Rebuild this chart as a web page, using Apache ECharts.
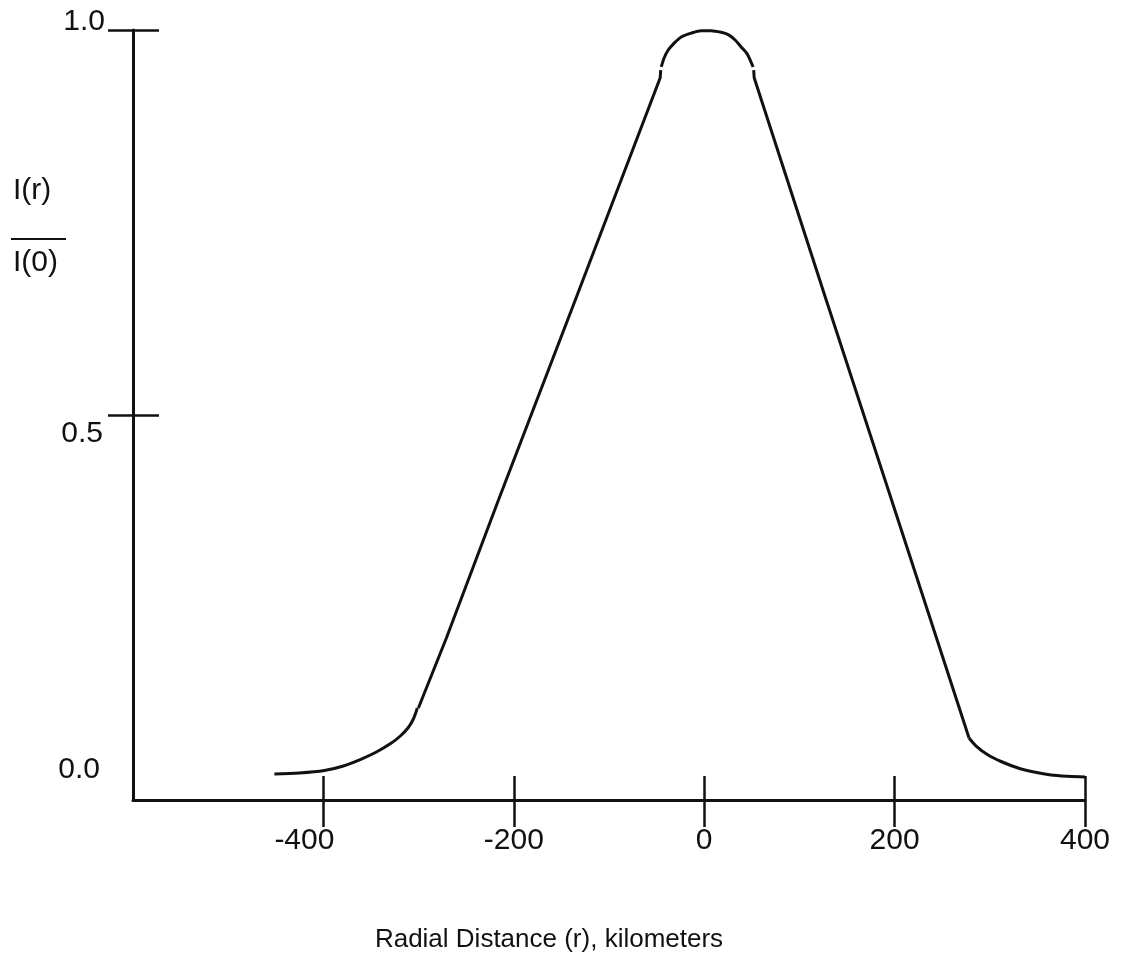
<!DOCTYPE html>
<html>
<head>
<meta charset="utf-8">
<style>
  html, body { margin: 0; padding: 0; background: #ffffff; }
  #chart { width: 1125px; height: 962px; }
</style>
<script src="https://cdn.jsdelivr.net/npm/echarts@6/dist/echarts.min.js"></script>
</head>
<body>
<div id="chart"></div>
<script>
// Normalised intensity profile I(r)/I(0) against radial distance r (km),
// drawn as five pieces: two wings, two straight flanks and the rounded crest.
const leftWingR  = [-451.5, -425.2, -399.0, -379.0, -360.1, -344.3, -328.6, -319.2, -310.8, -305.5, -301.3];
const leftWingI  = [0.0338, 0.0351, 0.0383, 0.0442, 0.0532, 0.0623, 0.0740, 0.0831, 0.0942, 0.1052, 0.1195];

const leftFlankR = [-300.2, -270.9, -216.3, -135.5, -46.2, -45.7];
const leftFlankI = [0.1195, 0.210, 0.389, 0.649, 0.938, 0.948];

const crestR = [-45.1, -42.0, -37.8, -31.5, -24.1, -13.6, -3.1, 7.3, 17.8, 25.2, 32.5, 38.8, 45.1, 49.3, 51.4];
const crestI = [0.952, 0.964, 0.974, 0.983, 0.991, 0.996, 0.999, 0.999, 0.997, 0.994, 0.987, 0.978, 0.969, 0.958, 0.952];

const rightFlankR = [52.0, 52.5, 128.0, 197.0, 278.2];
const rightFlankI = [0.948, 0.938, 0.650, 0.389, 0.0805];

const rightWingR = [278.2, 285.6, 298.2, 311.8, 329.7, 346.5, 364.3, 382.1, 400.0];
const rightWingI = [0.0805, 0.0701, 0.0584, 0.0500, 0.0416, 0.0364, 0.0325, 0.0308, 0.0299];

const xTicks = [-400, -200, 0, 200, 400];
const yTickMarks = [0.5, 1.0];
const yTickLabels = [0.0, 0.5, 1.0];

const FONT = '"Liberation Sans", Arial, Helvetica, sans-serif';
const INK = '#111111';
const TICK_FONT = 30;

const pairs = (rs, vs) => rs.map((r, i) => [r, vs[i]]);

// label placement tweaks: each y label sits a little off its tick,
// and the -400 label is set slightly to the left of its tick
const yLabelStyle = { 0: 'lo', 0.5: 'mid', 1: 'hi' };
const xLabelStyle = v => (v === -400 ? 'shift' : 'std');

const chart = echarts.init(document.getElementById('chart'), null, { renderer: 'canvas' });

const xBase = {
  type: 'value', min: -600, max: 400, position: 'bottom',
  splitLine: { show: false }
};
const yBase = {
  type: 'value', min: 0, max: 1, position: 'left',
  splitLine: { show: false }
};
const txt = extra => Object.assign({ fontFamily: FONT, fontSize: TICK_FONT, color: INK }, extra);

const segment = (rs, vs, smooth) => ({
  type: 'line',
  xAxisIndex: 0, yAxisIndex: 0,
  data: pairs(rs, vs),
  showSymbol: false,
  smooth: smooth,
  lineStyle: { color: INK, width: 3 },
  silent: true
});

chart.setOption({
  animation: false,
  backgroundColor: '#ffffff',
  grid: { left: 133, right: 40, top: 30, bottom: 162, containLabel: false },
  xAxis: [
    Object.assign({}, xBase, {
      axisLine: { show: true, onZero: false, lineStyle: { color: INK, width: 3 } },
      axisTick: { show: true, inside: false, length: 27, customValues: xTicks,
                  lineStyle: { color: INK, width: 2.5 } },
      axisLabel: {
        show: true, customValues: xTicks, margin: 26,
        fontFamily: FONT, fontSize: TICK_FONT, color: INK,
        formatter: v => '{' + xLabelStyle(v) + '|' + v + '}',
        rich: { std: txt({}), shift: txt({ padding: [0, 38, 0, 0] }) }
      }
    }),
    Object.assign({}, xBase, {
      axisLine: { show: false, onZero: false },
      axisTick: { show: true, inside: true, length: 24, customValues: xTicks,
                  lineStyle: { color: INK, width: 2.5 } },
      axisLabel: { show: false }
    })
  ],
  yAxis: [
    Object.assign({}, yBase, {
      axisLine: { show: true, onZero: false, lineStyle: { color: INK, width: 3 } },
      axisTick: { show: true, inside: false, length: 25, customValues: yTickMarks,
                  lineStyle: { color: INK, width: 2.5 } },
      axisLabel: {
        show: true, customValues: yTickLabels, margin: 28,
        fontFamily: FONT, fontSize: TICK_FONT, color: INK,
        formatter: v => '{' + yLabelStyle[v] + '|' + v.toFixed(1) + '}',
        rich: {
          hi:  txt({ padding: [0, 0, 16, 0] }),
          mid: txt({ padding: [38, 2, 0, 0] }),
          lo:  txt({ padding: [0, 5, 60, 0] })
        }
      }
    }),
    Object.assign({}, yBase, {
      axisLine: { show: false, onZero: false },
      axisTick: { show: true, inside: true, length: 26, customValues: yTickMarks,
                  lineStyle: { color: INK, width: 2.5 } },
      axisLabel: { show: false }
    })
  ],
  series: [
    segment(leftWingR, leftWingI, 0.3),
    segment(leftFlankR, leftFlankI, false),
    segment(crestR, crestI, 0.3),
    segment(rightFlankR, rightFlankI, false),
    segment(rightWingR, rightWingI, 0.3)
  ],
  graphic: [
    // ratio I(r) over I(0) used as the vertical axis title
    { type: 'text', left: 13, top: 176,
      style: { text: 'I(r)', fontFamily: FONT, fontSize: 30, fill: INK } },
    { type: 'line', shape: { x1: 11, y1: 239, x2: 66, y2: 239 },
      style: { stroke: INK, lineWidth: 2 } },
    { type: 'text', left: 13, top: 248,
      style: { text: 'I(0)', fontFamily: FONT, fontSize: 30, fill: INK } },
    { type: 'text', x: 549, y: 940,
      style: { text: 'Radial Distance (r), kilometers', fontFamily: FONT, fontSize: 26,
               fill: INK, align: 'center', verticalAlign: 'middle' } }
  ]
});
</script>
</body>
</html>
